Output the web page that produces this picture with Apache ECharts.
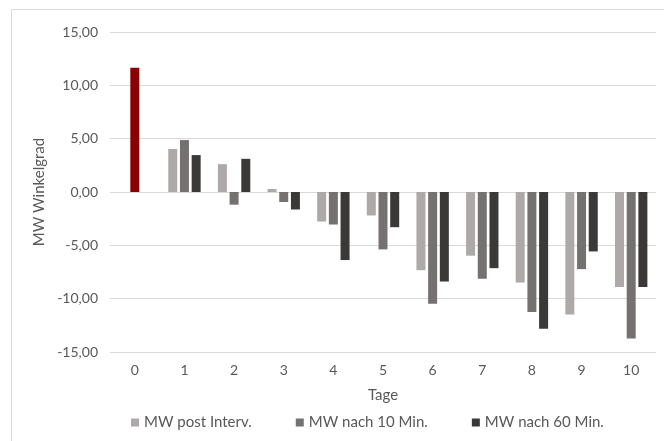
<!DOCTYPE html>
<html>
<head>
<meta charset="utf-8">
<script src="https://cdn.jsdelivr.net/npm/echarts@6/dist/echarts.min.js"></script>
<style>
html,body{margin:0;padding:0;background:#fff;}
#chart{width:664px;height:441px;}
</style>
</head>
<body>
<div id="chart"></div>
<script>
var categories = ['0','1','2','3','4','5','6','7','8','9','10'];
var seriesNames = ['MW post Interv.', 'MW nach 10 Min.', 'MW nach 60 Min.'];
var postInterv = [null, 4.03, 2.61, 0.28, -2.77, -2.20, -7.33, -5.97, -8.49, -11.48, -8.90];
var nach10Min = [11.64, 4.87, -1.19, -0.94, -3.05, -5.38, -10.47, -8.14, -11.26, -7.23, -13.74];
var nach60Min = [null, 3.46, 3.11, -1.64, -6.38, -3.30, -8.40, -7.14, -12.83, -5.57, -8.90];
var seriesColors = ['#ADA9A8', '#767171', '#3B3838'];
var highlightIndex = 0;
var highlightColor = '#8B0000';
var yTicks = {min: -15, max: 15, interval: 5};

var chart = echarts.init(document.getElementById('chart'), null, {renderer: 'canvas'});
var font = 'Lato, "Liberation Sans", sans-serif';
var textColor = '#595959';

function mkSeries(i, data) {
  return {
    name: seriesNames[i],
    type: 'bar',
    data: data,
    barWidth: 9,
    barGap: '30%',
    itemStyle: {
      color: function (p) {
        if (i === 1 && p.dataIndex === highlightIndex) return highlightColor;
        return seriesColors[i];
      }
    },
    emphasis: {disabled: true}
  };
}

chart.setOption({
  animation: false,
  color: seriesColors,
  textStyle: {fontFamily: font},
  graphic: [{
    type: 'rect',
    shape: {x: 11.5, y: 9.5, width: 700, height: 500},
    style: {fill: 'none', stroke: '#D9D9D9', lineWidth: 1},
    silent: true,
    z: -1
  }],
  grid: {left: 110, right: 8, top: 32, bottom: 89, containLabel: false},
  legend: {
    top: 410,
    left: 126,
    itemWidth: 8,
    itemHeight: 8,
    itemGap: 44,
    icon: 'rect',
    textStyle: {color: textColor, fontSize: 15, fontFamily: font},
    data: seriesNames
  },
  xAxis: {
    type: 'category',
    data: categories,
    name: 'Tage',
    nameLocation: 'middle',
    nameGap: 36,
    nameTextStyle: {color: textColor, fontSize: 15, fontFamily: font},
    axisLine: {show: false, onZero: false},
    axisTick: {show: false},
    axisLabel: {color: textColor, fontSize: 14, margin: 11, fontFamily: font}
  },
  yAxis: {
    type: 'value',
    min: yTicks.min,
    max: yTicks.max,
    interval: yTicks.interval,
    name: 'MW Winkelgrad',
    nameLocation: 'middle',
    nameGap: 55,
    nameTextStyle: {color: textColor, fontSize: 15, fontFamily: font},
    axisLine: {show: false},
    axisTick: {show: false},
    axisLabel: {
      color: textColor, fontSize: 14, margin: 12, fontFamily: font,
      formatter: function (v) { return v.toFixed(2).replace('.', ','); }
    },
    splitLine: {lineStyle: {color: '#D9D9D9', width: 1}}
  },
  series: [mkSeries(0, postInterv), mkSeries(1, nach10Min), mkSeries(2, nach60Min)]
});
</script>
</body>
</html>
